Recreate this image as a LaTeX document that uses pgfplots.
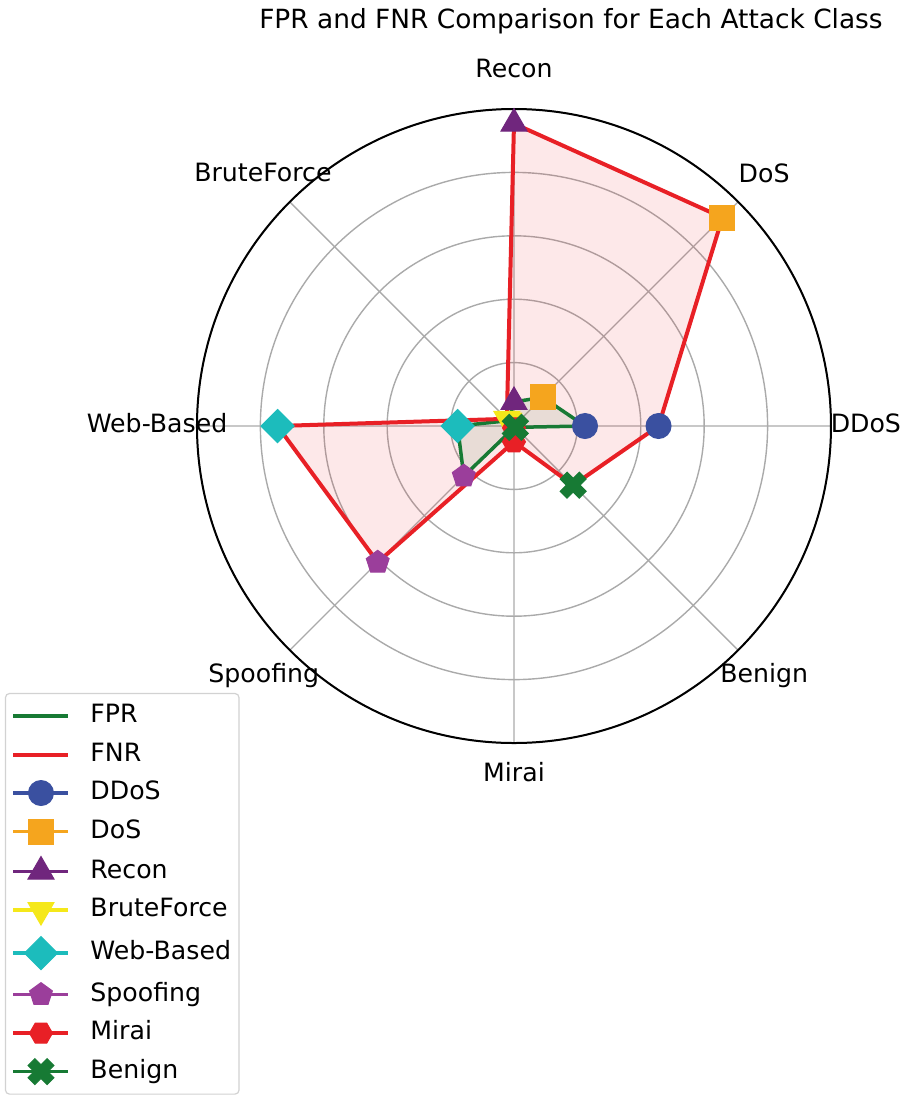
\documentclass[border=0pt]{standalone}
\usepackage{fontspec}
\setmainfont{DejaVu Sans}
\usepackage{pgfplots}
\pgfplotsset{compat=1.18}
\usepgfplotslibrary{polar}
\usetikzlibrary{plotmarks}

\definecolor{cFPR}{RGB}{23,122,52}
\definecolor{cFNR}{RGB}{232,32,38}
\definecolor{cDDoS}{RGB}{58,80,160}
\definecolor{cDoS}{RGB}{245,165,30}
\definecolor{cRecon}{RGB}{112,38,125}
\definecolor{cBrute}{RGB}{245,232,26}
\definecolor{cWeb}{RGB}{28,188,188}
\definecolor{cSpoof}{RGB}{155,62,155}
\definecolor{cMirai}{RGB}{232,32,38}
\definecolor{cBenign}{RGB}{23,122,52}
\definecolor{gridgray}{RGB}{170,170,170}

\pgfdeclareplotmark{hexagon*}{%
  \pgfpathmoveto{\pgfqpointpolar{0}{\pgfplotmarksize}}%
  \pgfpathlineto{\pgfqpointpolar{60}{\pgfplotmarksize}}%
  \pgfpathlineto{\pgfqpointpolar{120}{\pgfplotmarksize}}%
  \pgfpathlineto{\pgfqpointpolar{180}{\pgfplotmarksize}}%
  \pgfpathlineto{\pgfqpointpolar{240}{\pgfplotmarksize}}%
  \pgfpathlineto{\pgfqpointpolar{300}{\pgfplotmarksize}}%
  \pgfpathclose\pgfusepathqfillstroke}
\pgfdeclareplotmark{plusfill}{%
  \pgfpathmoveto{\pgfqpoint{0.36\pgfplotmarksize}{\pgfplotmarksize}}%
  \pgfpathlineto{\pgfqpoint{0.36\pgfplotmarksize}{0.36\pgfplotmarksize}}%
  \pgfpathlineto{\pgfqpoint{\pgfplotmarksize}{0.36\pgfplotmarksize}}%
  \pgfpathlineto{\pgfqpoint{\pgfplotmarksize}{-0.36\pgfplotmarksize}}%
  \pgfpathlineto{\pgfqpoint{0.36\pgfplotmarksize}{-0.36\pgfplotmarksize}}%
  \pgfpathlineto{\pgfqpoint{0.36\pgfplotmarksize}{-\pgfplotmarksize}}%
  \pgfpathlineto{\pgfqpoint{-0.36\pgfplotmarksize}{-\pgfplotmarksize}}%
  \pgfpathlineto{\pgfqpoint{-0.36\pgfplotmarksize}{-0.36\pgfplotmarksize}}%
  \pgfpathlineto{\pgfqpoint{-\pgfplotmarksize}{-0.36\pgfplotmarksize}}%
  \pgfpathlineto{\pgfqpoint{-\pgfplotmarksize}{0.36\pgfplotmarksize}}%
  \pgfpathlineto{\pgfqpoint{-0.36\pgfplotmarksize}{0.36\pgfplotmarksize}}%
  \pgfpathlineto{\pgfqpoint{-0.36\pgfplotmarksize}{\pgfplotmarksize}}%
  \pgfpathclose\pgfusepathqfillstroke}

\tikzset{
  mDDoS/.style={color=cDDoS, mark=*, mark size=12.5bp, mark options={solid, line width=1bp, fill=cDDoS}},
  mDoS/.style={color=cDoS, mark=square*, mark size=12.5bp, mark options={solid, line width=1bp, fill=cDoS}},
  mRecon/.style={color=cRecon, mark=triangle*, mark size=15bp, mark options={solid, line width=1bp, fill=cRecon}},
  mBrute/.style={color=cBrute, mark=triangle*, mark size=15bp, mark options={solid, line width=1bp, fill=cBrute, rotate=180}},
  mWeb/.style={color=cWeb, mark=square*, mark size=11.7bp, mark options={solid, line width=1bp, fill=cWeb, rotate=45}},
  mSpoof/.style={color=cSpoof, mark=pentagon*, mark size=12bp, mark options={solid, line width=1bp, fill=cSpoof}},
  mMirai/.style={color=cMirai, mark=hexagon*, mark size=11.5bp, mark options={solid, line width=1bp, fill=cMirai}},
  mBenign/.style={color=cBenign, mark=plusfill, mark size=13.5bp, mark options={solid, line width=1bp, fill=cBenign, rotate=45}},
  lab/.style={font=\fontsize{25.3}{30}\selectfont, anchor=center, inner sep=0pt, text height=18bp, text depth=5bp},
}

\begin{document}
\begin{tikzpicture}
\useasboundingbox (-514bp,-679bp) rectangle (391bp,426bp);
\begin{polaraxis}[
  at={(0bp,0bp)}, anchor=center,
  width=634bp, height=634bp, scale only axis,
  xmin=0, xmax=360, ymin=0, ymax=5,
  xtick={0,45,...,315}, xticklabels={},
  ytick={1,2,3,4,5}, yticklabels={},
  major tick length=0pt,
  xmajorgrids, ymajorgrids,
  grid style={gridgray, line width=1.4bp},
  axis line style={black, line width=2bp},
  y axis line style={draw=none},
  clip=false,
  legend image code/.code={\draw[mark repeat=2,mark phase=2,#1] plot coordinates {(0bp,0bp) (27.5bp,0bp) (55bp,0bp)};},
  legend style={at={(axis description cs:-0.303,0.079)}, anchor=north west,
    draw=gray!35, line width=1.2bp, rounded corners=4bp,
    font=\fontsize{25.3}{30}\selectfont,
    inner xsep=6bp, inner ysep=9bp,
    row sep=11.5bp, column sep=18bp,
    nodes={inner sep=2bp, text height=18bp, text depth=5bp},
    cells={anchor=west}},
]
% fills
\addplot[fill=cFPR, fill opacity=0.1, draw=none, forget plot] coordinates {
  (0,1.12) (45,0.64) (90,0.38) (135,0.12) (180,0.89) (225,1.12) (270,0.03) (315,0.03) (360,1.12)};
\addplot[fill=cFNR, fill opacity=0.1, draw=none, forget plot] coordinates {
  (0,2.28) (45,4.65) (90,4.77) (135,0.16) (180,3.73) (225,3.04) (270,0.25) (315,1.32) (360,2.28)};
% lines
\addplot[cFPR, line width=3.5bp, line join=round] coordinates {
  (0,1.12) (45,0.64) (90,0.38) (135,0.12) (180,0.89) (225,1.12) (270,0.03) (315,0.03) (360,1.12)};
\addlegendentry{FPR}
\addplot[cFNR, line width=4bp, line join=round] coordinates {
  (0,2.28) (45,4.65) (90,4.77) (135,0.16) (180,3.73) (225,3.04) (270,0.25) (315,1.32) (360,2.28)};
\addlegendentry{FNR}
% class markers
\addplot[mDDoS, only marks, forget plot] coordinates {(0,1.12) (0,2.28)};
\addplot[mDoS, only marks, forget plot] coordinates {(45,0.64) (45,4.65)};
\addplot[mRecon, only marks, forget plot] coordinates {(90,0.38) (90,4.77)};
\addplot[mBrute, only marks, forget plot] coordinates {(135,0.12) (135,0.16)};
\addplot[mWeb, only marks, forget plot] coordinates {(180,0.89) (180,3.73)};
\addplot[mSpoof, only marks, forget plot] coordinates {(225,1.12) (225,3.04)};
\addplot[mMirai, only marks, forget plot] coordinates {(270,0.03) (270,0.25)};
\addplot[mBenign, only marks, forget plot] coordinates {(315,0.03) (315,1.32)};
\addlegendimage{mDDoS, line width=3.3bp}\addlegendentry{DDoS}
\addlegendimage{mDoS, line width=3.3bp}\addlegendentry{DoS}
\addlegendimage{mRecon, line width=3.3bp}\addlegendentry{Recon}
\addlegendimage{mBrute, line width=3.3bp}\addlegendentry{BruteForce}
\addlegendimage{mWeb, line width=3.3bp}\addlegendentry{Web-Based\hspace{9bp}}
\addlegendimage{mSpoof, line width=3.3bp}\addlegendentry{Spoofing}
\addlegendimage{mMirai, line width=3.3bp}\addlegendentry{Mirai}
\addlegendimage{mBenign, line width=3.3bp}\addlegendentry{Benign}
% category labels
\node[lab] at (axis cs:0,5.55) {DDoS};
\node[lab] at (axis cs:45,5.58) {DoS};
\node[lab] at (axis cs:90,5.6) {Recon};
\node[lab] at (axis cs:135,5.6) {BruteForce};
\node[lab] at (axis cs:180,5.63) {Web-Based};
\node[lab] at (axis cs:225,5.58) {Spoofing};
\node[lab] at (axis cs:270,5.5) {Mirai};
\node[lab] at (axis cs:315,5.58) {Benign};
\end{polaraxis}
\node[font=\fontsize{26.5}{32}\selectfont, anchor=base] at (57bp,397bp) {FPR and FNR Comparison for Each Attack Class};
\end{tikzpicture}
\end{document}
